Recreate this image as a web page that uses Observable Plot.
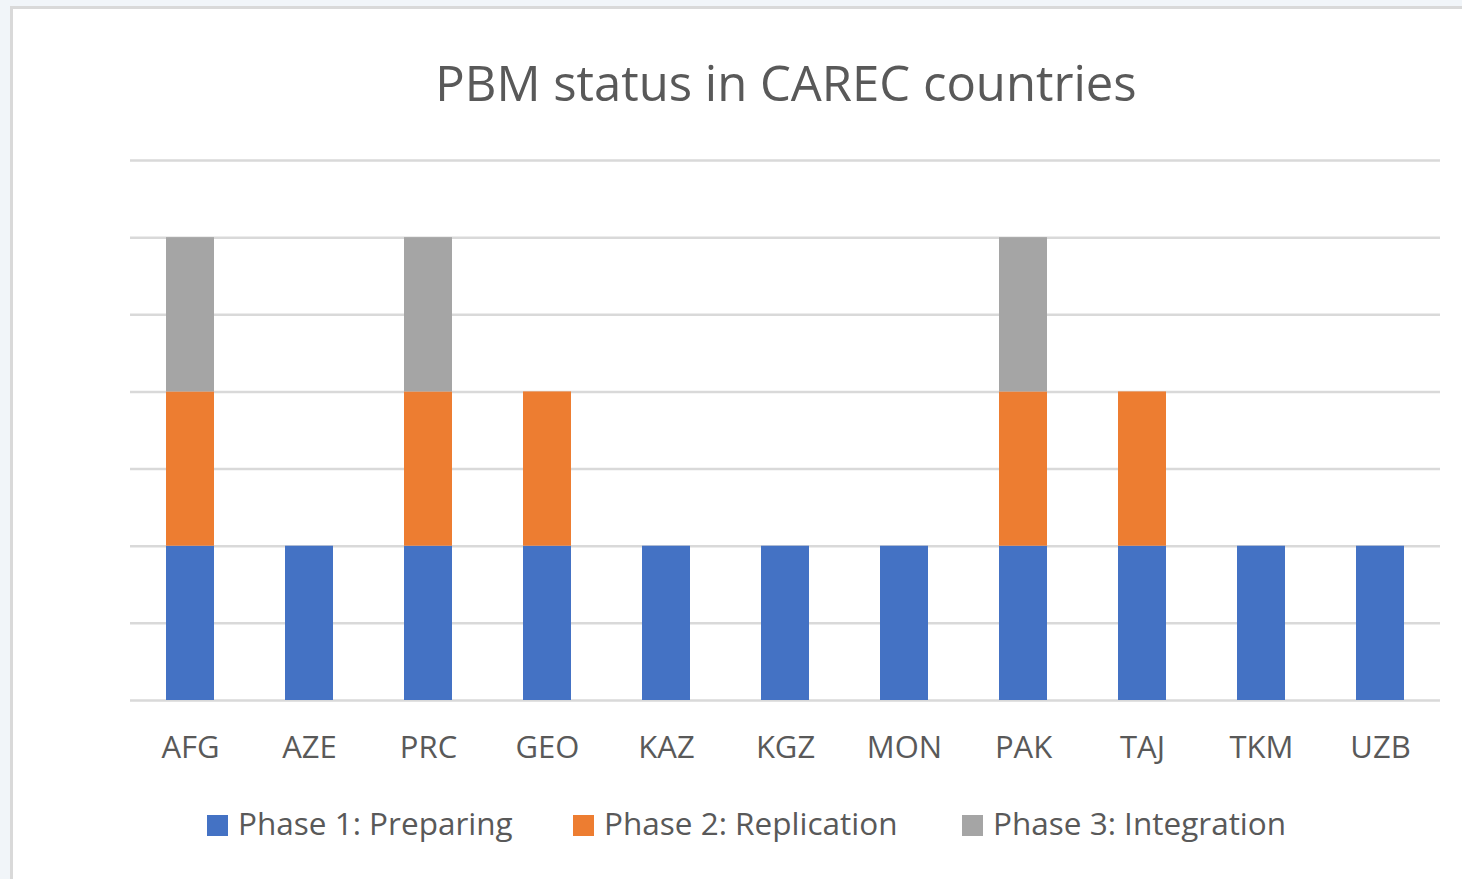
<!DOCTYPE html>
<html>
<head>
<meta charset="utf-8">
<script src="https://cdn.jsdelivr.net/npm/d3@7"></script>
<script src="https://cdn.jsdelivr.net/npm/@observablehq/plot@0.6"></script>
<style>
  html, body { margin: 0; padding: 0; width: 1462px; height: 879px; overflow: hidden; background: #f1f5f9; font-family: "Open Sans", sans-serif; }
  #frame { position: absolute; left: 10px; top: 6px; width: 1460px; height: 880px; background: #ffffff; border-left: 3px solid #d9d9d9; border-top: 3px solid #d9d9d9; box-sizing: border-box; }
  #title { position: absolute; left: 0; top: 50px; width: 1572px; text-align: center; font-size: 49px; color: #595959; white-space: nowrap; line-height: 64px; }
  #chart { position: absolute; left: 0; top: 0; }
  #legend { position: absolute; top: 803px; left: 0; width: 1462px; height: 40px; font-size: 31.5px; color: #595959; }
  .item { position: absolute; top: 0; white-space: nowrap; line-height: 40px; }
  .sw { display: inline-block; width: 21px; height: 21px; margin-right: 10px; vertical-align: -1px; }
</style>
</head>
<body>
<div id="frame"></div>
<div id="title">PBM status in CAREC countries</div>
<div id="chart"></div>
<div id="legend"></div>
<script>
const countries = ["AFG", "AZE", "PRC", "GEO", "KAZ", "KGZ", "MON", "PAK", "TAJ", "TKM", "UZB"];
const phase1 = [2, 2, 2, 2, 2, 2, 2, 2, 2, 2, 2];
const phase2 = [2, 0, 2, 2, 0, 0, 0, 2, 2, 0, 0];
const phase3 = [2, 0, 2, 0, 0, 0, 0, 2, 0, 0, 0];
const seriesNames = ["Phase 1: Preparing", "Phase 2: Replication", "Phase 3: Integration"];
const seriesColors = ["#4472c4", "#ed7d31", "#a5a5a5"];
const yTicks = [0, 1, 2, 3, 4, 5, 6, 7];

const seriesValues = [phase1, phase2, phase3];
const data = [];
seriesNames.forEach((s, si) => {
  countries.forEach((c, ci) => {
    data.push({country: c, phase: s, value: seriesValues[si][ci]});
  });
});

const chart = Plot.plot({
  width: 1462,
  height: 780,
  marginLeft: 130,
  marginRight: 22,
  marginTop: 160,
  marginBottom: 80,
  style: {background: "transparent", fontFamily: "Open Sans, sans-serif"},
  x: {domain: countries, paddingInner: 0.6, paddingOuter: 0.3, label: null},
  y: {domain: [0, 7], label: null},
  color: {domain: seriesNames, range: seriesColors},
  marks: [
    Plot.gridY(yTicks, {stroke: "#d9d9d9", strokeOpacity: 1, strokeWidth: 2.5}),
    Plot.barY(data, {x: "country", y: "value", fill: "phase", order: seriesNames}),
    Plot.axisX({tickSize: 0, tickPadding: 35, fontSize: 31, fill: "#595959", label: null}),
    Plot.axisY({ticks: [], label: null})
  ]
});
document.getElementById("chart").appendChild(chart);

const legendPos = [207, 573, 962];
const legend = document.getElementById("legend");
seriesNames.forEach((s, i) => {
  const d = document.createElement("div");
  d.className = "item";
  d.style.left = legendPos[i] + "px";
  d.innerHTML = `<span class="sw" style="background:${seriesColors[i]}"></span>${s}`;
  legend.appendChild(d);
});
</script>
</body>
</html>
